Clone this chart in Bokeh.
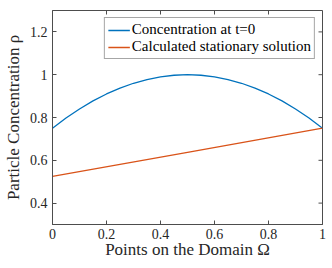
import math
from bokeh.plotting import figure
from bokeh.models import FixedTicker, Range1d, Legend, LegendItem
from bokeh.embed import file_html
from bokeh.resources import INLINE

x_init = [0.0, 0.05, 0.1, 0.15, 0.2, 0.25, 0.3, 0.35, 0.4, 0.45, 0.5,
          0.55, 0.6, 0.65, 0.7, 0.75, 0.8, 0.85, 0.9, 0.95, 1.0]
rho_init = [0.75, 0.7975, 0.84, 0.8775, 0.91, 0.9375, 0.96, 0.9775, 0.99, 0.9975, 1.0,
            0.9975, 0.99, 0.9775, 0.96, 0.9375, 0.91, 0.8775, 0.84, 0.7975, 0.75]
x_stat = [0.0, 0.5, 1.0]
rho_stat = [0.525, 0.6375, 0.75]

x_ticks = [0, 0.2, 0.4, 0.6, 0.8, 1]
x_tick_labels = ["0", "0.2", "0.4", "0.6", "0.8", "1"]
y_ticks = [0.4, 0.6, 0.8, 1.0, 1.2]
y_tick_labels = ["0.4", "0.6", "0.8", "1", "1.2"]

FONT = "Liberation Serif"
AX = "#4d4d4d"
TXT = "#262626"

p = figure(frame_width=270, frame_height=214, output_backend="svg", toolbar_location=None,
           x_range=Range1d(0, 1), y_range=Range1d(0.3, 1.3),
           min_border_left=41, min_border_right=4, min_border_top=10, min_border_bottom=30,
           x_axis_label="Points on the Domain Ω", y_axis_label="Particle Concentration ρ")
p.grid.visible = False
p.outline_line_color = AX
p.background_fill_color = "white"
p.border_fill_color = "white"

l1 = p.line(x_init, rho_init, line_color="#0072BD", line_width=1.3)
l2 = p.line(x_stat, rho_stat, line_color="#D95319", line_width=1.3)

for ax, ticks, labels in [(p.xaxis[0], x_ticks, x_tick_labels), (p.yaxis[0], y_ticks, y_tick_labels)]:
    ax.ticker = FixedTicker(ticks=ticks)
    ax.major_label_overrides = {t: l for t, l in zip(ticks, labels)}
    ax.major_tick_in = 4
    ax.major_tick_out = 0
    ax.minor_tick_line_color = None
    ax.axis_line_color = AX
    ax.major_tick_line_color = AX
    ax.major_label_text_font = FONT
    ax.major_label_text_font_size = "14px"
    ax.major_label_text_color = TXT
    ax.axis_label_text_font = FONT
    ax.axis_label_text_font_size = "17px"
    ax.axis_label_text_font_style = "normal"
    ax.axis_label_text_color = TXT
    ax.major_label_standoff = 5

p.xaxis[0].major_label_standoff = 4
p.xaxis[0].axis_label_standoff = -2
p.yaxis[0].axis_label_standoff = 4

# tick marks on the top and right edges of the box
p.ray(x=x_ticks, y=1.3, length=4, length_units="screen", angle=-math.pi / 2,
      line_color=AX, line_width=1)
p.ray(x=1, y=y_ticks, length=4, length_units="screen", angle=math.pi,
      line_color=AX, line_width=1)

legend = Legend(items=[LegendItem(label="Concentration at t=0", renderers=[l1]),
                       LegendItem(label="Calculated stationary solution", renderers=[l2])],
                location="top_right")
legend.label_text_font = FONT
legend.label_text_font_size = "15px"
legend.label_text_color = "black"
legend.border_line_color = AX
legend.border_line_width = 1
legend.margin = 7
legend.padding = 3
legend.spacing = 0
legend.glyph_width = 22
legend.glyph_height = 14
legend.label_height = 14
legend.label_standoff = 2
legend.label_text_baseline = "middle"
p.add_layout(legend)

open("out.html", "w").write(file_html(p, INLINE))
